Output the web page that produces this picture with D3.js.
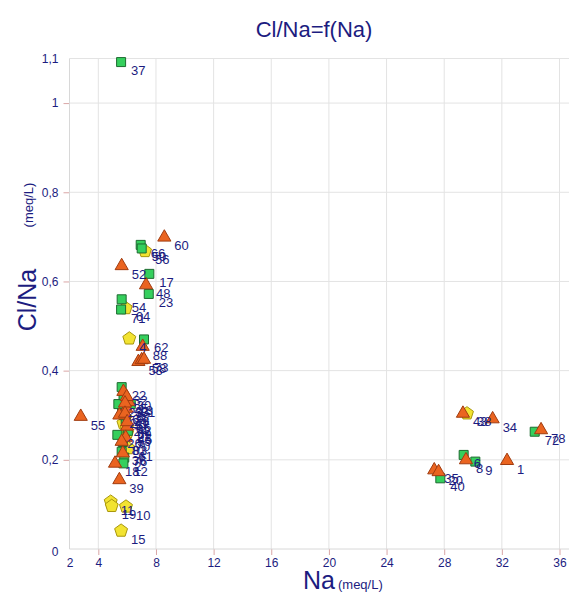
<!DOCTYPE html>
<html><head><meta charset="utf-8">
<script src="https://cdn.jsdelivr.net/npm/d3@7"></script>
<style>
html,body{margin:0;padding:0;background:#fff;}
svg{display:block;font-family:"Liberation Sans",Arial,sans-serif;}
</style></head>
<body><svg id="c" width="569" height="596"></svg>
<script>
// ---- data ----
const xTickValues = [2, 4, 8, 12, 16, 20, 24, 28, 32, 36];
const yTickValues = [0, 0.2, 0.4, 0.6, 0.8, 1, 1.1];

const greenX = [5.58, 6.94, 7.01, 7.54, 7.50, 5.62, 5.58, 7.17, 5.75, 5.65, 5.90, 5.70, 5.80, 5.62, 5.39, 6.25, 5.32, 5.62, 5.74, 5.80, 6.05, 34.28, 29.35, 30.16, 27.73];
const greenY = [1.092, 0.682, 0.674, 0.617, 0.572, 0.560, 0.537, 0.470, 0.335, 0.310, 0.290, 0.240, 0.205, 0.363, 0.325, 0.325, 0.256, 0.218, 0.192, 0.300, 0.265, 0.263, 0.211, 0.196, 0.1585];
const greenLbl = ["37", "66", "50", "17", "23", "54", "71", "62", "25", "63", "65", "83", "2", "22", "29", "31", "26", "36", "12", "41", "45", "72", "6", "9", "40"];

const orangeX = [8.58, 5.62, 7.31, 7.08, 6.78, 7.01, 7.17, 5.95, 6.00, 5.90, 5.70, 6.10, 5.74, 5.97, 5.85, 5.46, 5.85, 5.62, 5.16, 5.46, 2.78, 6.00, 29.30, 31.36, 34.72, 29.51, 32.36, 27.31, 27.61];
const orangeY = [0.699, 0.635, 0.592, 0.454, 0.420, 0.424, 0.425, 0.315, 0.275, 0.250, 0.215, 0.330, 0.353, 0.3415, 0.327, 0.300, 0.304, 0.241, 0.192, 0.155, 0.297, 0.285, 0.304, 0.2915, 0.267, 0.1996, 0.198, 0.177, 0.173];
const orangeLbl = ["60", "52", "48", "88", "53", "58", "73", "67", "69", "70", "76", "13", "32", "30", "33", "27", "28", "81", "18", "39", "55", "42", "43", "34", "78", "8", "1", "35", "20"];

const yellowX = [7.24, 5.90, 6.15, 5.85, 6.00, 5.74, 5.97, 6.08, 4.86, 4.93, 5.92, 5.58, 29.58];
const yellowY = [0.668, 0.540, 0.472, 0.295, 0.260, 0.282, 0.271, 0.226, 0.106, 0.0964, 0.095, 0.041, 0.304];
const yellowLbl = ["56", "64", "4", "57", "59", "24", "21", "61", "11", "19", "10", "15", "38"];

// ---- layout ----
const svg = d3.select("#c");
const x = d3.scaleLinear().domain([2, 36]).range([69.5, 559.5]);
const y = d3.scaleLinear().domain([0, 1.1]).range([549, 58.5]);
const rightEdge = 569;
const navy = "#1c1c80";
const fmt = d => String(d).replace(".", ",");

// grid
const grid = svg.append("g");
grid.selectAll("line.v").data(xTickValues.filter(d => d > 2)).join("line")
  .attr("x1", d => x(d)).attr("x2", d => x(d)).attr("y1", y(1.1)).attr("y2", y(0))
  .attr("stroke", "#e3e3e3").attr("stroke-width", 1);
grid.selectAll("line.h").data(yTickValues.filter(d => d > 0)).join("line")
  .attr("x1", x(2)).attr("x2", rightEdge).attr("y1", d => y(d)).attr("y2", d => y(d))
  .attr("stroke", "#e3e3e3").attr("stroke-width", 1);

// axes
const xAxis = svg.append("g").attr("transform", `translate(0,${y(0)})`)
  .call(d3.axisBottom(x).tickValues(xTickValues).tickFormat(fmt).tickSize(6).tickPadding(3));
const yAxis = svg.append("g").attr("transform", `translate(${x(2)},0)`)
  .call(d3.axisLeft(y).tickValues(yTickValues).tickFormat(fmt).tickSize(6).tickPadding(5));
[xAxis, yAxis].forEach(a => {
  a.select(".domain").remove();
  a.selectAll(".tick line").attr("stroke", "#d9a6a6");
  a.selectAll(".tick text").attr("fill", navy).attr("font-size", 12)
    .attr("font-family", "Liberation Sans, Arial, sans-serif");
});
xAxis.selectAll(".tick").filter(d => d === 2).select("line").remove();
yAxis.selectAll(".tick").filter(d => d === 0 || d === 1.1).select("line").remove();
yAxis.selectAll(".tick").filter(d => d === 0).select("text").attr("dy", "0.55em");
// axis lines
svg.append("line").attr("x1", x(2)).attr("x2", rightEdge).attr("y1", y(0)).attr("y2", y(0)).attr("stroke", "#d8d8d8");
svg.append("line").attr("x1", x(2)).attr("x2", x(2)).attr("y1", y(0)).attr("y2", y(1.1)).attr("stroke", "#d8d8d8");

// symbols
const pentagon = {
  draw(ctx, size) {
    const r = Math.sqrt(size / 2.378);
    for (let i = 0; i < 5; i++) {
      const a = -Math.PI / 2 + i * 2 * Math.PI / 5;
      const px = r * Math.cos(a), py = r * Math.sin(a);
      if (i === 0) ctx.moveTo(px, py); else ctx.lineTo(px, py);
    }
    ctx.closePath();
  }
};
const series = [
  {xs: yellowX, ys: yellowY, lbl: yellowLbl, type: pentagon, size: 110, fill: "#f2e332", stroke: "#a8960c"},
  {xs: greenX, ys: greenY, lbl: greenLbl, type: d3.symbolSquare, size: 81, fill: "#35cf5d", stroke: "#1d6b30"},
  {xs: orangeX, ys: orangeY, lbl: orangeLbl, type: d3.symbolTriangle, size: 75, fill: "#ea6420", stroke: "#a03c10"}
];
series.forEach(s => {
  svg.append("g").selectAll("path").data(s.xs.map((v, i) => [v, s.ys[i]])).join("path")
    .attr("transform", d => `translate(${x(d[0])},${y(d[1])})`)
    .attr("d", d3.symbol().type(s.type).size(s.size))
    .attr("fill", s.fill).attr("stroke", s.stroke).attr("stroke-width", 1);
});
series.forEach(s => {
  svg.append("g").selectAll("text").data(s.xs.map((v, i) => [v, s.ys[i], s.lbl[i]])).join("text")
    .attr("x", d => x(d[0]) + 10).attr("y", d => y(d[1]) + 13)
    .attr("font-size", 13).attr("fill", navy).text(d => d[2]);
});

// titles
svg.append("text").attr("x", 314).attr("y", 37).attr("text-anchor", "middle")
  .attr("font-size", 22).attr("fill", navy).text("Cl/Na=f(Na)");
const xt = svg.append("text").attr("x", 303).attr("y", 589).attr("fill", navy);
xt.append("tspan").attr("font-size", 25).text("Na");
xt.append("tspan").attr("font-size", 13).attr("dx", 3).text("(meq/L)");
svg.append("text").attr("transform", "translate(36,300) rotate(-90)").attr("text-anchor", "middle")
  .attr("font-size", 25).attr("fill", navy).text("Cl/Na");
svg.append("text").attr("transform", "translate(33,205) rotate(-90)").attr("text-anchor", "middle")
  .attr("font-size", 13).attr("fill", navy).text("(meq/L)");
</script></body></html>
